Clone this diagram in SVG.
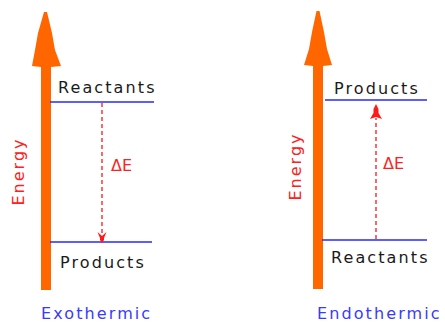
<svg xmlns="http://www.w3.org/2000/svg" width="445" height="322" viewBox="0 0 445 322">
<style>
.lbl{font-family:"DejaVu Sans","Verdana",sans-serif;font-size:16px;fill:#1a1a1a;letter-spacing:2.1px}
.en{font-family:"DejaVu Sans",sans-serif;font-size:16px;fill:#ff2020;letter-spacing:2px}
.de{font-family:"DejaVu Sans",sans-serif;font-size:16px;fill:#ff2020}
.ttl{font-family:"DejaVu Sans",sans-serif;font-size:16px;fill:#3a3aff;letter-spacing:2.1px}
.lvl{stroke:#2828ff;stroke-width:1.6;fill:none}
.dash{stroke:#ff4040;stroke-width:1.6;stroke-dasharray:4 3;fill:none}
.ax{fill:#ff6600}
.ah{fill:#ff1a1a}
</style>
<rect width="445" height="322" fill="#ffffff"/>
<g id="exo-axis">
<polygon class="ax" points="44,12 47,12 52,33 55,50 61,66 51,67 51,290 41,290 41,67 32,66 35,50 38,33"/>
<text class="en" transform="translate(24,171.5) rotate(-90)" text-anchor="middle">Energy</text>
</g>
<g id="exo-reactants">
<line class="lvl" x1="50" y1="102" x2="154" y2="102"/>
<text class="lbl" x="58" y="93">Reactants</text>
</g>
<g id="exo-products">
<line class="lvl" x1="50" y1="242" x2="152" y2="242"/>
<text class="lbl" x="60" y="268">Products</text>
</g>
<g id="exo-title">
<text class="ttl" x="41" y="319">Exothermic</text>
</g>
<g id="endo-axis">
<polygon class="ax" points="316.5,11 319.5,11 324,32 327,49 332,65 323,66 323,289 313,289 313,66 304,65 309,49 312,32"/>
<text class="en" transform="translate(301,166.5) rotate(-90)" text-anchor="middle">Energy</text>
</g>
<g id="endo-products">
<line class="lvl" x1="325" y1="100" x2="427" y2="100"/>
<text class="lbl" x="334" y="94">Products</text>
</g>
<g id="endo-reactants">
<line class="lvl" x1="322" y1="240" x2="427" y2="240"/>
<text class="lbl" x="331" y="263">Reactants</text>
</g>
<g id="endo-title">
<text class="ttl" x="317" y="319">Endothermic</text>
</g>
<g id="connectors">
<line class="dash" x1="102" y1="103" x2="102" y2="234"/>
<polygon class="ah" points="97.5,232 102,236 106.5,232 104,238 104,240 102,243 100,240 100,238"/>
<text class="de" x="111" y="171">ΔE</text>
<line class="dash" x1="376" y1="239" x2="376" y2="118"/>
<polygon class="ah" points="376,104 378.5,109 378.5,113 382,119 376,117 370,119 373.5,113 373.5,109"/>
<text class="de" x="383" y="169">ΔE</text>
</g>
</svg>
